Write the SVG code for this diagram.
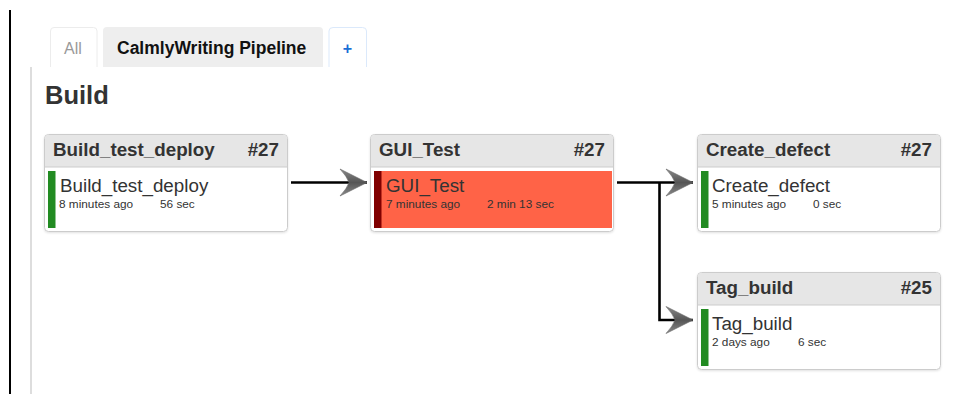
<svg xmlns="http://www.w3.org/2000/svg" width="966" height="394" viewBox="0 0 966 394">
  <defs>
    <style>
      .txt { font-family: "Liberation Sans", Arial, sans-serif; }
      .tab-all { font-size: 16px; fill: #999999; }
      .tab-cur { font-size: 17.5px; font-weight: bold; fill: #111111; }
      .tab-add { font-size: 16px; font-weight: bold; fill: #1a6fd6; }
      .title { font-size: 25.5px; font-weight: bold; fill: #333333; }
      .frame { fill: #ffffff; stroke: #cccccc; stroke-width: 1; }
      .head { fill: #e6e6e6; }
      .headline { stroke: #cccccc; stroke-width: 1; }
      .hname { font-size: 18.8px; font-weight: bold; fill: #333333; }
      .hnum { font-size: 18.8px; font-weight: bold; fill: #333333; text-anchor: end; }
      .bname { font-size: 18.8px; fill: #333333; }
      .meta { font-size: 11.8px; fill: #333333; }
      .ok { fill: #228b22; }
      .fail-bg { fill: #ff6347; }
      .fail { fill: #800000; }
      .edge { fill: none; stroke: #000000; stroke-width: 2.6; }
    </style>
    <linearGradient id="headFill" x1="0" y1="0" x2="0" y2="1">
      <stop offset="0" stop-color="#8a8a8a"/>
      <stop offset="0.5" stop-color="#555555"/>
      <stop offset="1" stop-color="#8a8a8a"/>
    </linearGradient>
    <marker id="arrow" markerUnits="userSpaceOnUse" markerWidth="32" markerHeight="32" refX="28" refY="15" orient="auto" viewBox="0 0 32 30">
      <path d="M28,15 L1,1.5 Q8,9 10,15 Q8,21 1,28.5 Z" fill="url(#headFill)" stroke="#666666" stroke-width="0.6"/>
    </marker>
    <filter id="shadow" x="-5%" y="-5%" width="110%" height="115%">
      <feDropShadow dx="0" dy="1" stdDeviation="1" flood-color="#000000" flood-opacity="0.12"/>
    </filter>
  </defs>

  <rect width="966" height="394" fill="#ffffff"/>

  <!-- page rules -->
  <line x1="10" y1="10" x2="10" y2="394" stroke="#000000" stroke-width="2"/>
  <line x1="31" y1="67" x2="31" y2="394" stroke="#dddddd" stroke-width="2"/>

  <!-- view tabs -->
  <g id="tabs" class="txt">
    <path d="M50.5,67 V31 Q50.5,27.5 54,27.5 H93.5 Q97,27.5 97,31 V67" fill="#ffffff" stroke="#ececec"/>
    <text class="tab-all" x="64" y="54">All</text>
    <path d="M103,67 V31 Q103,27 107,27 H319 Q323,27 323,31 V67 Z" fill="#eeeeee"/>
    <text class="tab-cur" x="117" y="54">CalmlyWriting Pipeline</text>
    <path d="M329,67 V31 Q329,27.5 333,27.5 H362.5 Q366.5,27.5 366.5,31 V67" fill="#ffffff" stroke="#dbe9fb"/>
    <text class="tab-add" x="347.5" y="54" text-anchor="middle">+</text>
  </g>

  <text class="txt title" x="45" y="104">Build</text>

  <!-- connectors -->
  <g id="connectors">
    <path class="edge" d="M291,182.5 H367" marker-end="url(#arrow)"/>
    <path class="edge" d="M617,182.5 H693" marker-end="url(#arrow)"/>
    <path class="edge" d="M659.5,182.5 V320 H693" marker-end="url(#arrow)"/>
  </g>

  <!-- stage: Build_test_deploy -->
  <g id="node-build-test-deploy" class="txt">
    <rect class="frame" x="44.5" y="134.5" width="243" height="97" rx="4" filter="url(#shadow)"/>
    <path class="head" d="M45,167 V138.5 Q45,135 48.5,135 H283.5 Q287,135 287,138.5 V167 Z"/>
    <line class="headline" x1="45" y1="167" x2="287" y2="167"/>
    <text class="hname" x="53" y="156">Build_test_deploy</text>
    <text class="hnum" x="279" y="156">#27</text>
    <rect class="ok" x="48" y="171" width="7.5" height="57"/>
    <text class="bname" x="60" y="192">Build_test_deploy</text>
    <text class="meta" x="59" y="207.5">8 minutes ago</text>
    <text class="meta" x="160" y="207.5">56 sec</text>
  </g>

  <!-- stage: GUI_Test (failed) -->
  <g id="node-gui-test" class="txt">
    <rect class="frame" x="370.5" y="134.5" width="243" height="97" rx="4" filter="url(#shadow)"/>
    <path class="head" d="M371,167 V138.5 Q371,135 374.5,135 H609.5 Q613,135 613,138.5 V167 Z"/>
    <line class="headline" x1="371" y1="167" x2="613" y2="167"/>
    <text class="hname" x="379" y="156">GUI_Test</text>
    <text class="hnum" x="605" y="156">#27</text>
    <rect class="fail-bg" x="374" y="171" width="238" height="57"/>
    <rect class="fail" x="374" y="171" width="7.5" height="57"/>
    <text class="bname" x="386" y="192">GUI_Test</text>
    <text class="meta" x="386" y="207.5">7 minutes ago</text>
    <text class="meta" x="487" y="207.5">2 min 13 sec</text>
  </g>

  <!-- stage: Create_defect -->
  <g id="node-create-defect" class="txt">
    <rect class="frame" x="697.5" y="134.5" width="243" height="97" rx="4" filter="url(#shadow)"/>
    <path class="head" d="M698,167 V138.5 Q698,135 701.5,135 H936.5 Q940,135 940,138.5 V167 Z"/>
    <line class="headline" x1="698" y1="167" x2="940" y2="167"/>
    <text class="hname" x="706" y="156">Create_defect</text>
    <text class="hnum" x="932" y="156">#27</text>
    <rect class="ok" x="701" y="171" width="7.5" height="57"/>
    <text class="bname" x="712" y="192">Create_defect</text>
    <text class="meta" x="712" y="207.5">5 minutes ago</text>
    <text class="meta" x="813" y="207.5">0 sec</text>
  </g>

  <!-- stage: Tag_build -->
  <g id="node-tag-build" class="txt">
    <rect class="frame" x="697.5" y="272.5" width="243" height="97" rx="4" filter="url(#shadow)"/>
    <path class="head" d="M698,305 V276.5 Q698,273 701.5,273 H936.5 Q940,273 940,276.5 V305 Z"/>
    <line class="headline" x1="698" y1="305" x2="940" y2="305"/>
    <text class="hname" x="706" y="294">Tag_build</text>
    <text class="hnum" x="932" y="294">#25</text>
    <rect class="ok" x="701" y="309" width="7.5" height="57"/>
    <text class="bname" x="712" y="330">Tag_build</text>
    <text class="meta" x="712" y="345.5">2 days ago</text>
    <text class="meta" x="798" y="345.5">6 sec</text>
  </g>
</svg>
